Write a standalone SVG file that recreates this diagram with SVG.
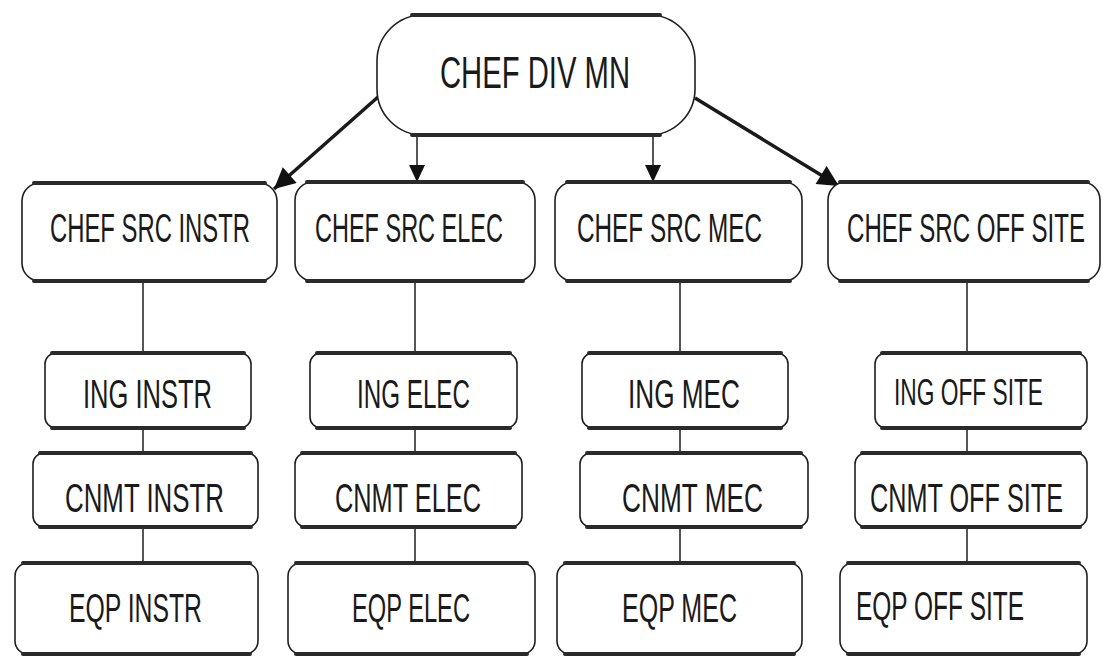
<svg xmlns="http://www.w3.org/2000/svg" width="1103" height="658" viewBox="0 0 1103 658">
  <defs>
    <style>
      .box { fill: #ffffff; stroke: #1e1e1e; stroke-width: 1.6; }
      .edge { stroke: #2a2a2a; stroke-width: 4; stroke-linecap: round; fill: none; }
      .lbl { font-family: "Liberation Sans", Arial, sans-serif; fill: #1a1a1a; }
      .link { stroke: #1e1e1e; stroke-width: 1.5; fill: none; }
      .thick { stroke: #1a1a1a; stroke-width: 3.5; fill: none; }
    </style>
    <marker id="headBig" viewBox="0 0 10 10" refX="10" refY="5" markerWidth="6.5" markerHeight="6" orient="auto">
      <path d="M0,0 L10,5 L0,10 Z" fill="#111"/>
    </marker>
  </defs>

  <rect width="1103" height="658" fill="#ffffff"/>

  <!-- connectors -->
  <g id="connectors">
    <line class="thick" x1="378" y1="97" x2="274" y2="189" marker-end="url(#headBig)"/>
    <line class="thick" x1="695" y1="98" x2="839" y2="186" marker-end="url(#headBig)"/>
    <line class="link" x1="417" y1="135" x2="417" y2="182"/>
    <path d="M409,165 L425,165 L417,182 Z" fill="#111"/>
    <line class="link" x1="653" y1="135" x2="653" y2="182"/>
    <path d="M645,165 L661,165 L653,182 Z" fill="#111"/>

    <line class="link" x1="143" y1="281" x2="143" y2="353"/>
    <line class="link" x1="143" y1="428" x2="143" y2="453"/>
    <line class="link" x1="143" y1="527" x2="143" y2="563"/>

    <line class="link" x1="415" y1="281" x2="415" y2="353"/>
    <line class="link" x1="415" y1="428" x2="415" y2="453"/>
    <line class="link" x1="415" y1="527" x2="415" y2="563"/>

    <line class="link" x1="680" y1="281" x2="680" y2="353"/>
    <line class="link" x1="680" y1="428" x2="680" y2="453"/>
    <line class="link" x1="680" y1="527" x2="680" y2="563"/>

    <line class="link" x1="967" y1="281" x2="967" y2="353"/>
    <line class="link" x1="967" y1="428" x2="967" y2="453"/>
    <line class="link" x1="967" y1="527" x2="967" y2="563"/>
  </g>

  <!-- head of division -->
  <g id="chef-div-mn">
    <rect class="box" x="377" y="15" width="318" height="120" rx="46" ry="46"/>
    <line class="edge" x1="412" y1="15" x2="660" y2="15"/>
    <line class="edge" x1="412" y1="135" x2="660" y2="135"/>
    <text class="lbl" font-size="29.2" transform="translate(440,88) scale(1,1.5)" textLength="190" lengthAdjust="spacingAndGlyphs">CHEF DIV MN</text>
  </g>

  <!-- section heads -->
  <g id="chef-src-instr">
    <rect class="box" x="22" y="183" width="255" height="98" rx="18" ry="18"/>
    <line class="edge" x1="34" y1="183" x2="265" y2="183"/>
    <line class="edge" x1="34" y1="281" x2="265" y2="281"/>
    <text class="lbl" font-size="23.8" transform="translate(50,242) scale(1,1.68)" textLength="200" lengthAdjust="spacingAndGlyphs">CHEF SRC INSTR</text>
  </g>
  <g id="chef-src-elec">
    <rect class="box" x="295" y="182" width="240" height="99" rx="18" ry="18"/>
    <line class="edge" x1="307" y1="182" x2="523" y2="182"/>
    <line class="edge" x1="307" y1="281" x2="523" y2="281"/>
    <text class="lbl" font-size="23.5" transform="translate(315,242) scale(1,1.7)" textLength="188" lengthAdjust="spacingAndGlyphs">CHEF SRC ELEC</text>
  </g>
  <g id="chef-src-mec">
    <rect class="box" x="555" y="182" width="247" height="99" rx="18" ry="18"/>
    <line class="edge" x1="567" y1="182" x2="790" y2="182"/>
    <line class="edge" x1="567" y1="281" x2="790" y2="281"/>
    <text class="lbl" font-size="24.3" transform="translate(577,242) scale(1,1.65)" textLength="185" lengthAdjust="spacingAndGlyphs">CHEF SRC MEC</text>
  </g>
  <g id="chef-src-off-site">
    <rect class="box" x="828" y="182" width="272" height="99" rx="18" ry="18"/>
    <line class="edge" x1="840" y1="182" x2="1088" y2="182"/>
    <line class="edge" x1="840" y1="281" x2="1088" y2="281"/>
    <text class="lbl" font-size="24.1" transform="translate(847,242) scale(1,1.66)" textLength="238" lengthAdjust="spacingAndGlyphs">CHEF SRC OFF SITE</text>
  </g>

  <!-- engineers -->
  <g id="ing-instr">
    <rect class="box" x="45" y="353" width="206" height="75" rx="11" ry="11"/>
    <line class="edge" x1="52" y1="353" x2="244" y2="353"/>
    <line class="edge" x1="52" y1="428" x2="244" y2="428"/>
    <text class="lbl" font-size="25.5" transform="translate(83,408) scale(1,1.57)" textLength="129" lengthAdjust="spacingAndGlyphs">ING INSTR</text>
  </g>
  <g id="ing-elec">
    <rect class="box" x="310" y="353" width="207" height="75" rx="11" ry="11"/>
    <line class="edge" x1="317" y1="353" x2="510" y2="353"/>
    <line class="edge" x1="317" y1="428" x2="510" y2="428"/>
    <text class="lbl" font-size="24.2" transform="translate(357,408) scale(1,1.65)" textLength="113" lengthAdjust="spacingAndGlyphs">ING ELEC</text>
  </g>
  <g id="ing-mec">
    <rect class="box" x="582" y="353" width="206" height="75" rx="11" ry="11"/>
    <line class="edge" x1="589" y1="353" x2="781" y2="353"/>
    <line class="edge" x1="589" y1="428" x2="781" y2="428"/>
    <text class="lbl" font-size="26.2" transform="translate(628,408) scale(1,1.53)" textLength="112" lengthAdjust="spacingAndGlyphs">ING MEC</text>
  </g>
  <g id="ing-off-site">
    <rect class="box" x="875" y="353" width="212" height="75" rx="11" ry="11"/>
    <line class="edge" x1="882" y1="353" x2="1080" y2="353"/>
    <line class="edge" x1="882" y1="428" x2="1080" y2="428"/>
    <text class="lbl" font-size="22.7" transform="translate(894,405) scale(1,1.59)" textLength="149" lengthAdjust="spacingAndGlyphs">ING OFF SITE</text>
  </g>

  <!-- maintenance -->
  <g id="cnmt-instr">
    <rect class="box" x="33" y="453" width="225" height="74" rx="11" ry="11"/>
    <line class="edge" x1="40" y1="453" x2="251" y2="453"/>
    <line class="edge" x1="40" y1="527" x2="251" y2="527"/>
    <text class="lbl" font-size="25.8" transform="translate(65,512) scale(1,1.55)" textLength="159" lengthAdjust="spacingAndGlyphs">CNMT INSTR</text>
  </g>
  <g id="cnmt-elec">
    <rect class="box" x="295" y="453" width="227" height="74" rx="11" ry="11"/>
    <line class="edge" x1="302" y1="453" x2="515" y2="453"/>
    <line class="edge" x1="302" y1="527" x2="515" y2="527"/>
    <text class="lbl" font-size="25.3" transform="translate(335,512) scale(1,1.58)" textLength="146" lengthAdjust="spacingAndGlyphs">CNMT ELEC</text>
  </g>
  <g id="cnmt-mec">
    <rect class="box" x="580" y="453" width="228" height="74" rx="11" ry="11"/>
    <line class="edge" x1="587" y1="453" x2="801" y2="453"/>
    <line class="edge" x1="587" y1="527" x2="801" y2="527"/>
    <text class="lbl" font-size="26.2" transform="translate(622,512) scale(1,1.53)" textLength="141" lengthAdjust="spacingAndGlyphs">CNMT MEC</text>
  </g>
  <g id="cnmt-off-site">
    <rect class="box" x="855" y="453" width="232" height="74" rx="11" ry="11"/>
    <line class="edge" x1="862" y1="453" x2="1080" y2="453"/>
    <line class="edge" x1="862" y1="527" x2="1080" y2="527"/>
    <text class="lbl" font-size="25.2" transform="translate(870,512) scale(1,1.59)" textLength="193" lengthAdjust="spacingAndGlyphs">CNMT OFF SITE</text>
  </g>

  <!-- equipment -->
  <g id="eqp-instr">
    <rect class="box" x="15" y="563" width="243" height="91" rx="13" ry="13"/>
    <line class="edge" x1="23" y1="563" x2="250" y2="563"/>
    <line class="edge" x1="23" y1="654" x2="250" y2="654"/>
    <text class="lbl" font-size="24.7" transform="translate(69,622) scale(1,1.62)" textLength="133" lengthAdjust="spacingAndGlyphs">EQP INSTR</text>
  </g>
  <g id="eqp-elec">
    <rect class="box" x="288" y="563" width="247" height="91" rx="13" ry="13"/>
    <line class="edge" x1="296" y1="563" x2="527" y2="563"/>
    <line class="edge" x1="296" y1="654" x2="527" y2="654"/>
    <text class="lbl" font-size="23.6" transform="translate(352,622) scale(1,1.69)" textLength="118" lengthAdjust="spacingAndGlyphs">EQP ELEC</text>
  </g>
  <g id="eqp-mec">
    <rect class="box" x="557" y="563" width="245" height="91" rx="13" ry="13"/>
    <line class="edge" x1="565" y1="563" x2="794" y2="563"/>
    <line class="edge" x1="565" y1="654" x2="794" y2="654"/>
    <text class="lbl" font-size="24.9" transform="translate(622,622) scale(1,1.6)" textLength="115" lengthAdjust="spacingAndGlyphs">EQP MEC</text>
  </g>
  <g id="eqp-off-site">
    <rect class="box" x="840" y="563" width="247" height="91" rx="13" ry="13"/>
    <line class="edge" x1="848" y1="563" x2="1079" y2="563"/>
    <line class="edge" x1="848" y1="654" x2="1079" y2="654"/>
    <text class="lbl" font-size="24.4" transform="translate(856,620) scale(1,1.64)" textLength="168" lengthAdjust="spacingAndGlyphs">EQP OFF SITE</text>
  </g>
</svg>
